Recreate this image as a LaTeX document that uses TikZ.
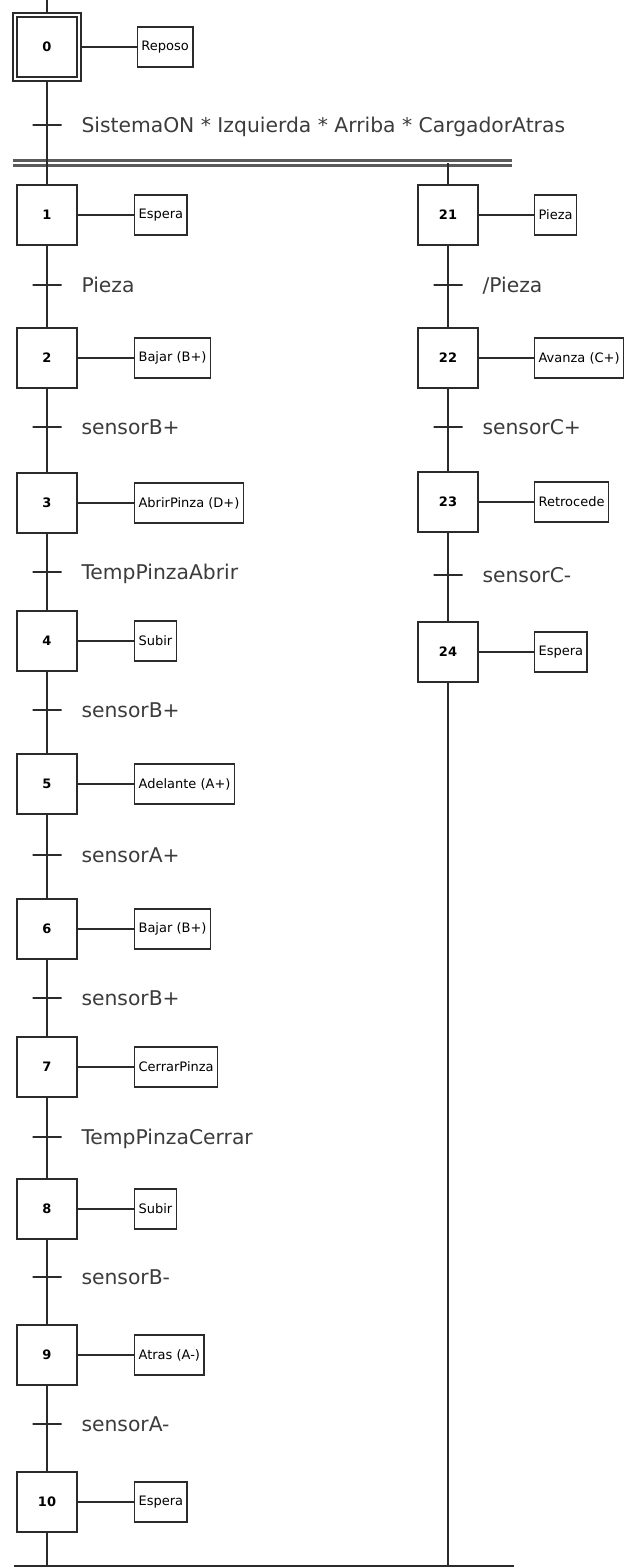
\documentclass[tikz,border=0pt]{standalone}
\usepackage{fontspec}
\setmainfont{DejaVu Sans}
\usetikzlibrary{positioning}
\definecolor{grline}{HTML}{2B2B2B}
\definecolor{grtext}{HTML}{3C3C3C}
\definecolor{grbar}{HTML}{5A5A5A}

\begin{document}
\begin{tikzpicture}[
  x=1pt, y=-1pt,
  node distance=56pt,
  etapa/.style={draw=grline, line width=1.6pt, minimum size=60pt, inner sep=0pt,
    font=\fontsize{13}{13}\selectfont\bfseries},
  accion/.style={draw=grline, line width=1.6pt, minimum height=40pt, inner xsep=4pt,
    font=\fontsize{13}{13}\selectfont},
  trans/.style={draw=grline, line width=1.6pt, minimum width=29pt, minimum height=0pt,
    inner sep=0pt},
  cond/.style={inner sep=0pt, text=grtext, text height=14.8pt, text depth=0pt,
    font=\fontsize{20.3}{21}\selectfont},
  enlace/.style={draw=grline, line width=1.6pt}
]
  \useasboundingbox (0,0) rectangle (624,1568);

  % Initial step
  \coordinate (top) at (47,0);
  \node[etapa, minimum size=64pt, line width=1.3pt, double=white, double distance=2.5pt]
    (s0) at (47,47) {0};
  \node[accion, right=57pt of s0] (a0) {Reposo};

  % Simultaneous divergence
  \coordinate (barL) at (13,163);
  \coordinate (barR) at (512,163);
  \draw[grbar, line width=2.4pt, double=white, double distance=2.8pt] (barL) -- (barR);

  % Left sequence
  \node[etapa] (s1) at (47,215) {1};
  \node[etapa] (s2) at (47,358) {2};
  \node[etapa] (s3) at (47,503) {3};
  \node[etapa] (s4) at (47,641) {4};
  \node[etapa] (s5) at (47,784) {5};
  \node[etapa] (s6) at (47,929) {6};
  \node[etapa] (s7) at (47,1067) {7};
  \node[etapa] (s8) at (47,1209) {8};
  \node[etapa] (s9) at (47,1355) {9};
  \node[etapa] (s10) at (47,1502) {10};

  \node[accion, right=of s1] (a1) {Espera};
  \node[accion, right=of s2] (a2) {Bajar (B+)};
  \node[accion, right=of s3] (a3) {AbrirPinza (D+)};
  \node[accion, right=of s4] (a4) {Subir};
  \node[accion, right=of s5] (a5) {Adelante (A+)};
  \node[accion, right=of s6] (a6) {Bajar (B+)};
  \node[accion, right=of s7] (a7) {CerrarPinza};
  \node[accion, right=of s8] (a8) {Subir};
  \node[accion, right=of s9] (a9) {Atras (A-)};
  \node[accion, right=of s10] (a10) {Espera};

  % Right sequence
  \node[etapa] (s21) at (448,215) {21};
  \node[etapa] (s22) at (448,358) {22};
  \node[etapa] (s23) at (448,502) {23};
  \node[etapa] (s24) at (448,652) {24};

  \node[accion, right=55pt of s21] (a21) {Pieza};
  \node[accion, right=55pt of s22] (a22) {Avanza (C+)};
  \node[accion, right=55pt of s23] (a23) {Retrocede};
  \node[accion, right=55pt of s24] (a24) {Espera};

  % Transitions
  \node[trans] (t0) at (47,125) {};
  \node[trans] (t1) at (47,285) {};
  \node[trans] (t2) at (47,427) {};
  \node[trans] (t3) at (47,572) {};
  \node[trans] (t4) at (47,710) {};
  \node[trans] (t5) at (47,855) {};
  \node[trans] (t6) at (47,998) {};
  \node[trans] (t7) at (47,1137) {};
  \node[trans] (t8) at (47,1277) {};
  \node[trans] (t9) at (47,1424) {};
  \node[trans] (t21) at (448,285) {};
  \node[trans] (t22) at (448,427) {};
  \node[trans] (t23) at (448,575) {};

  \node[cond, right=19pt of t0] (c0) {SistemaON * Izquierda * Arriba * CargadorAtras};
  \node[cond, right=19pt of t1] (c1) {Pieza};
  \node[cond, right=19pt of t2] (c2) {sensorB+};
  \node[cond, right=19pt of t3] (c3) {TempPinzaAbrir};
  \node[cond, right=19pt of t4] (c4) {sensorB+};
  \node[cond, right=19pt of t5] (c5) {sensorA+};
  \node[cond, right=19pt of t6] (c6) {sensorB+};
  \node[cond, right=19pt of t7] (c7) {TempPinzaCerrar};
  \node[cond, right=19pt of t8] (c8) {sensorB-};
  \node[cond, right=19pt of t9] (c9) {sensorA-};
  \node[cond, right=19pt of t21] (c21) {/Pieza};
  \node[cond, right=19pt of t22] (c22) {sensorC+};
  \node[cond, right=19pt of t23] (c23) {sensorC-};

  % Final bar
  \coordinate (finL) at (14,1566);
  \coordinate (finR) at (514,1566);
  \coordinate (j21) at (s21 |- barR);
  \coordinate (j10) at (s10 |- finL);
  \coordinate (j24) at (s24 |- finL);
  \draw[grline, line width=2.4pt] (finL) -- (finR);

  % Links
  \draw[enlace] (top) -- (s0);
  \draw[enlace] (s0) -- (t0) -- (s1) -- (t1) -- (s2) -- (t2) -- (s3) -- (t3) -- (s4)
    -- (t4) -- (s5) -- (t5) -- (s6) -- (t6) -- (s7) -- (t7) -- (s8) -- (t8) -- (s9)
    -- (t9) -- (s10) -- (j10);
  \draw[enlace] (j21) -- (s21) -- (t21) -- (s22) -- (t22) -- (s23) -- (t23) -- (s24) -- (j24);

  \draw[enlace] (s0) -- (a0);
  \draw[enlace] (s1) -- (a1);
  \draw[enlace] (s2) -- (a2);
  \draw[enlace] (s3) -- (a3);
  \draw[enlace] (s4) -- (a4);
  \draw[enlace] (s5) -- (a5);
  \draw[enlace] (s6) -- (a6);
  \draw[enlace] (s7) -- (a7);
  \draw[enlace] (s8) -- (a8);
  \draw[enlace] (s9) -- (a9);
  \draw[enlace] (s10) -- (a10);
  \draw[enlace] (s21) -- (a21);
  \draw[enlace] (s22) -- (a22);
  \draw[enlace] (s23) -- (a23);
  \draw[enlace] (s24) -- (a24);

\end{tikzpicture}
\end{document}
